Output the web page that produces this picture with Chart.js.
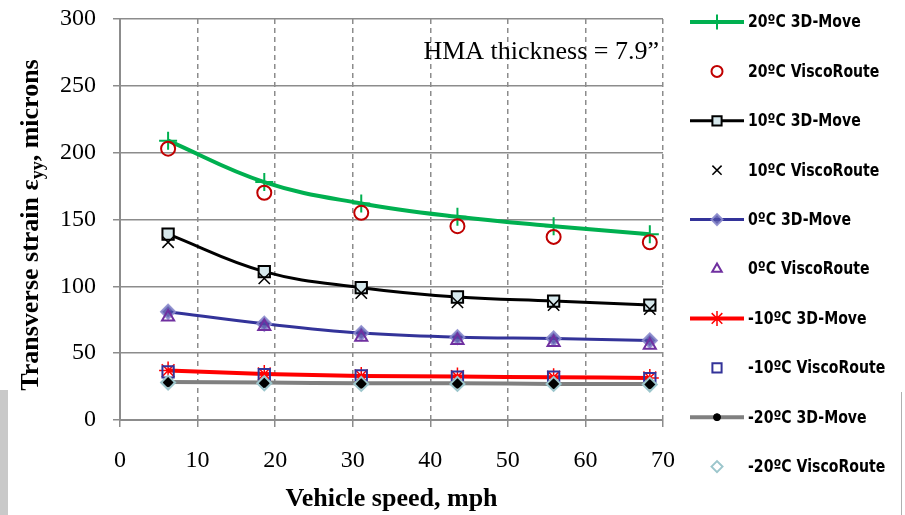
<!DOCTYPE html>
<html>
<head>
<meta charset="utf-8">
<script src="https://cdn.jsdelivr.net/npm/chart.js@4.4.0/dist/chart.umd.min.js"></script>
<style>
  body { margin: 0; background: #fff; }
  #wrap { position: relative; width: 905px; height: 515px; }
  .deco1 { position: absolute; left: 0; top: 390px; width: 8px; height: 125px; background: #c9c9c9; }
  .deco2 { position: absolute; left: 901px; top: 392px; width: 1px; height: 123px; background: #b0b0b0; }
</style>
</head>
<body>
<div id="wrap">
  <canvas id="myChart"></canvas>
  <div class="deco1"></div>
  <div class="deco2"></div>
</div>
<script>
// vehicle speeds (mph) where strain was computed
const speeds = [6.2, 18.6, 31.1, 43.5, 55.9, 68.3];

// transverse strain, microns
const move20 = [209, 178, 162, 152, 145, 139];
const visco20 = [203, 170, 155, 145, 137, 133];
const move10 = [139, 111, 99, 92, 89, 86];
const visco10 = [133, 106, 95, 88, 86, 83];
const move0 = [81, 72, 65, 62, 61, 59.5];
const visco0 = [77, 70, 62, 59.5, 58, 56];
const moveM10 = [37, 34.5, 33, 32.5, 32, 31.5];
const viscoM10 = [36, 34, 33, 32, 32, 31];
const moveM20 = [28.5, 28, 27.5, 27.5, 27, 27];
const viscoM20 = [28, 27.5, 27, 27, 27, 26.5];

const seriesNames = [
  '20ºC 3D-Move', '20ºC ViscoRoute',
  '10ºC 3D-Move', '10ºC ViscoRoute',
  '0ºC 3D-Move', '0ºC ViscoRoute',
  '-10ºC 3D-Move', '-10ºC ViscoRoute',
  '-20ºC 3D-Move', '-20ºC ViscoRoute'
];

const xTicks = [0, 10, 20, 30, 40, 50, 60, 70];
const yTicks = [0, 50, 100, 150, 200, 250, 300];
const note = 'HMA thickness = 7.9”';

const serif = '"Liberation Serif", "Times New Roman", serif';
const narrow = '"Liberation Sans Narrow", "Arial Narrow", "DejaVu Sans Condensed", sans-serif';

const pts = (vals) => speeds.map((s, i) => ({ x: s, y: vals[i] }));

const styles = [
  { line: true, color: '#00b050', width: 4, style: 'cross', r: 9, fill: '#00b050', border: '#00b050', bw: 2 },
  { line: false, style: 'circle', r: 7, fill: 'transparent', border: '#c00000', bw: 2 },
  { line: true, color: '#000000', width: 3, style: 'rect', r: 8, fill: '#d6e8ec', border: '#000000', bw: 2 },
  { line: false, style: 'crossRot', r: 8, fill: '#000', border: '#000000', bw: 1.5 },
  { line: true, color: '#333399', width: 3, style: 'rectRot', r: 7, fill: 'rgba(75,75,165,0.85)', border: 'rgba(140,140,205,0.9)', bw: 2 },
  { line: false, style: 'triangle', r: 7, fill: 'transparent', border: '#7030a0', bw: 2 },
  { line: true, color: '#ff0000', width: 4, style: 'star', r: 9, fill: '#ff0000', border: '#ff0000', bw: 1.5 },
  { line: false, style: 'rect', r: 8, fill: 'transparent', border: '#333399', bw: 2 },
  { line: true, color: '#808080', width: 4, style: 'circle', r: 5, fill: '#000000', border: '#000000', bw: 1 },
  { line: false, style: 'rectRot', r: 7, fill: 'transparent', border: '#9cc6cc', bw: 2 }
];

const allValues = [move20, visco20, move10, visco10, move0, visco0, moveM10, viscoM10, moveM20, viscoM20];

const datasets = allValues.map((vals, i) => {
  const s = styles[i];
  return {
    label: seriesNames[i],
    data: pts(vals),
    showLine: s.line,
    borderColor: s.line ? s.color : s.border,
    borderWidth: s.line ? s.width : 0,
    tension: 0.4,
    pointStyle: s.style,
    pointRadius: s.r,
    pointBackgroundColor: s.fill,
    pointBorderColor: s.border,
    pointBorderWidth: s.bw,
    order: 10 - i
  };
});

// legend down the right side, line + marker like excel
const sideLegend = {
  id: 'sideLegend',
  afterDraw(chart) {
    const ctx = chart.ctx;
    const x0 = chart.chartArea.right + 27;
    ctx.save();
    chart.data.datasets.forEach((ds, i) => {
      const s = styles[i];
      const y = 22 + i * 49.4;
      if (s.line) {
        ctx.strokeStyle = s.color;
        ctx.lineWidth = s.width;
        ctx.beginPath();
        ctx.moveTo(x0, y);
        ctx.lineTo(x0 + 54, y);
        ctx.stroke();
      }
      ctx.fillStyle = s.fill;
      ctx.strokeStyle = s.border;
      ctx.lineWidth = s.bw;
      Chart.helpers.drawPoint(ctx, { pointStyle: s.style, radius: s.r - 1.5, rotation: 0, borderWidth: s.bw }, x0 + 27, y);
      ctx.save();
      ctx.translate(x0 + 58, y + 1);
      ctx.scale(0.92, 1);
      ctx.fillStyle = '#000';
      ctx.font = 'bold 17px ' + narrow;
      ctx.textAlign = 'left';
      ctx.textBaseline = 'middle';
      ctx.fillText(ds.label, 0, 0);
      ctx.restore();
    });
    ctx.restore();
  }
};

// axis titles and note (y title needs a subscript)
const titles = {
  id: 'titles',
  afterDraw(chart) {
    const ctx = chart.ctx;
    const area = chart.chartArea;
    ctx.save();
    ctx.fillStyle = '#000';
    ctx.textBaseline = 'middle';
    ctx.textAlign = 'center';
    ctx.font = 'bold 26px ' + serif;
    ctx.fillText('Vehicle speed, mph', (area.left + area.right) / 2, 499);

    ctx.font = '26px ' + serif;
    ctx.fillText(note, chart.scales.x.getPixelForValue(54.3), chart.scales.y.getPixelForValue(275));

    ctx.translate(31, 225);
    ctx.rotate(-Math.PI / 2);
    ctx.textAlign = 'left';
    const parts = [
      { t: 'Transverse strain ε', f: 'bold 26px ' + serif, dy: 0 },
      { t: 'yy', f: 'bold 18px ' + serif, dy: 7 },
      { t: ', microns', f: 'bold 26px ' + serif, dy: 0 }
    ];
    let total = 0;
    parts.forEach(p => { ctx.font = p.f; p.w = ctx.measureText(p.t).width; total += p.w; });
    let x = -total / 2;
    parts.forEach(p => { ctx.font = p.f; ctx.fillText(p.t, x, p.dy); x += p.w; });
    ctx.restore();
  }
};

new Chart(document.getElementById('myChart'), {
  type: 'line',
  data: { datasets: datasets },
  options: {
    responsive: true,
    maintainAspectRatio: false,
    animation: false,
    layout: { padding: { top: 19, right: 242, left: 0, bottom: 0 } },
    plugins: {
      legend: { display: false },
      tooltip: { enabled: false }
    },
    scales: {
      x: {
        type: 'linear',
        min: 0,
        max: 70,
        afterBuildTicks: (scale) => { scale.ticks = xTicks.map(v => ({ value: v })); },
        afterFit: (scale) => {
          scale.height = 95;
          scale.paddingLeft = 0;
          scale.paddingRight = 0;
        },
        ticks: { color: '#000', font: { family: serif, size: 24 }, padding: 19, maxRotation: 0 },
        grid: {
          color: (c) => (c.tick && c.tick.value === 0) ? 'rgba(0,0,0,0)' : '#8c8c8c',
          lineWidth: 1.5,
          tickColor: '#8c8c8c',
          tickLength: 7,
          tickBorderDash: []
        },
        border: { display: true, color: '#8c8c8c', width: 2, dash: [5, 4] }
      },
      y: {
        min: 0,
        max: 300,
        afterBuildTicks: (scale) => { scale.ticks = yTicks.map(v => ({ value: v })); },
        afterFit: (scale) => {
          scale.width = 120;
          scale.paddingTop = 0;
          scale.paddingBottom = 0;
        },
        ticks: { color: '#000', font: { family: serif, size: 24 }, padding: 17 },
        grid: { color: '#8c8c8c', lineWidth: 1.5, tickLength: 7 },
        border: { display: true, color: '#8c8c8c', width: 2 }
      }
    }
  },
  plugins: [sideLegend, titles]
});
</script>
</body>
</html>
